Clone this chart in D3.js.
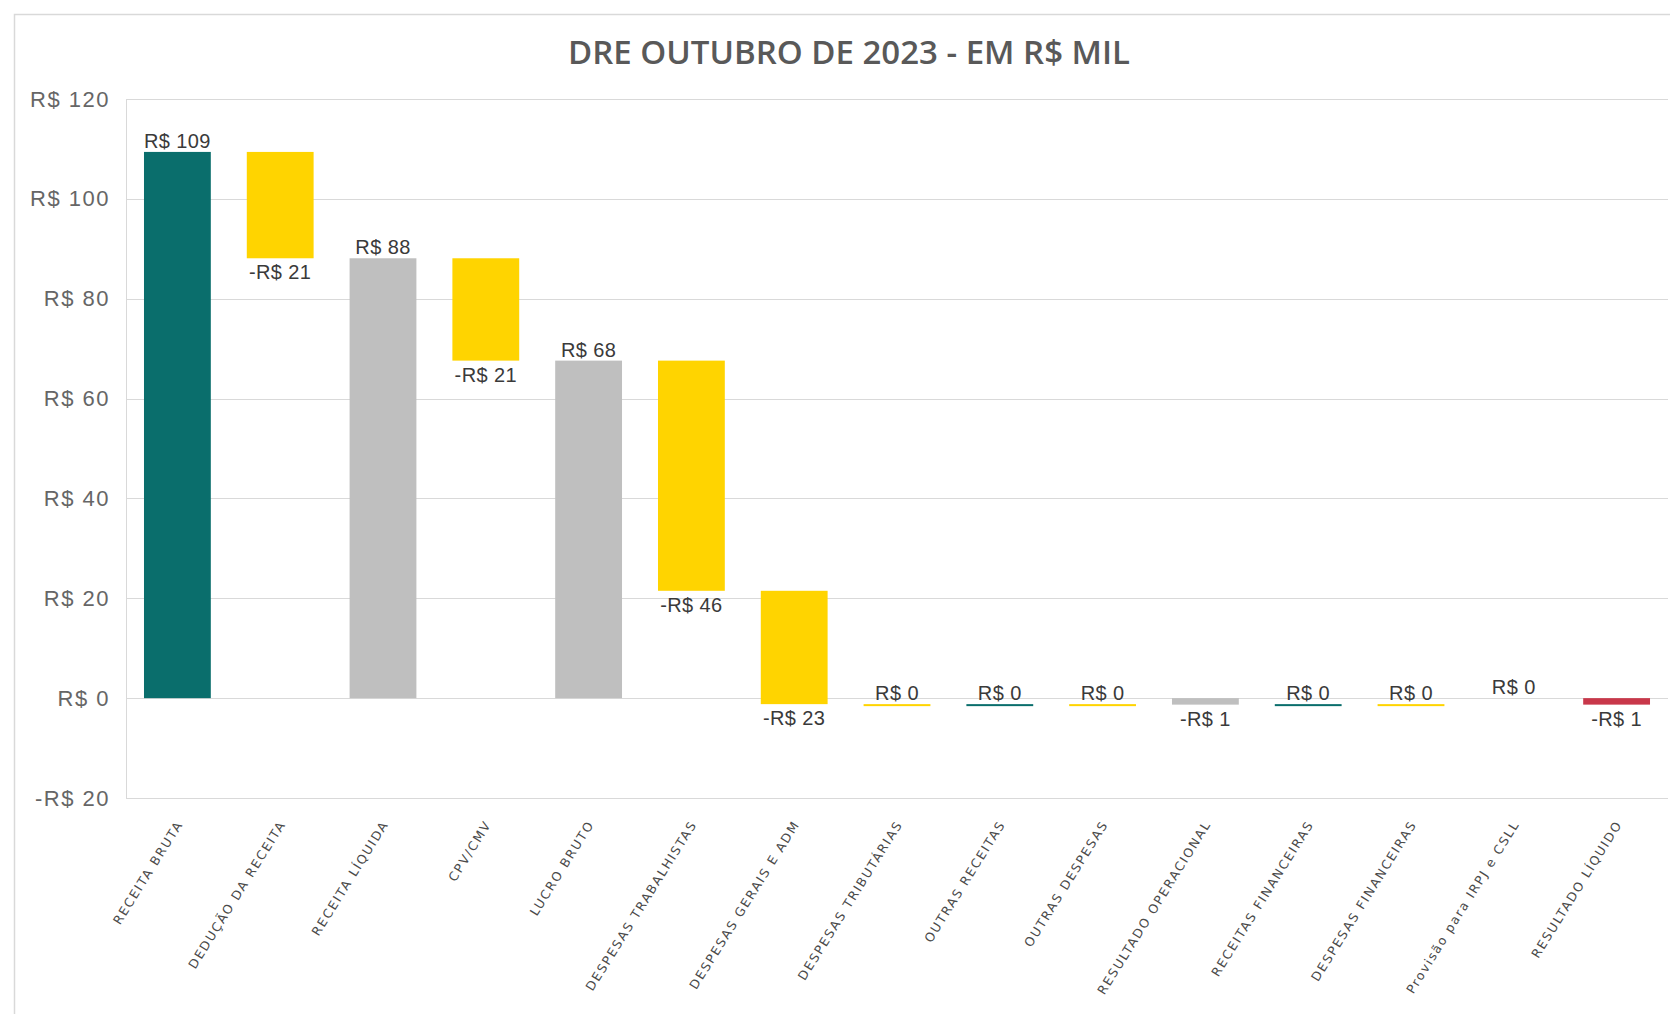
<!DOCTYPE html>
<html>
<head>
<meta charset="utf-8">
<script src="https://cdn.jsdelivr.net/npm/d3@7"></script>
<style>
  body { margin: 0; background: #fff; }
  svg { display: block; }
</style>
</head>
<body>
<div id="chart"></div>
<script>
// DRE outubro 2023, valores em R$ mil
const categories = [
    "RECEITA BRUTA", "DEDUÇÃO DA RECEITA", "RECEITA LÍQUIDA", "CPV/CMV", "LUCRO BRUTO",
    "DESPESAS TRABALHISTAS", "DESPESAS GERAIS E ADM", "DESPESAS TRIBUTÁRIAS", "OUTRAS RECEITAS",
    "OUTRAS DESPESAS", "RESULTADO OPERACIONAL", "RECEITAS FINANCEIRAS", "DESPESAS FINANCEIRAS",
    "Provisão para IRPJ e CSLL", "RESULTADO LÍQUIDO"
];
const values = [109.4, -21.3, 88.1, -20.5, 67.6, -46.1, -22.7, -0.1, 0.1, -0.1, -1.3, 0.1, -0.1, 0, -1.3];
// "total" = barra a partir do zero, "delta" = variação sobre o acumulado
const kinds = ["total", "delta", "total", "delta", "total", "delta", "delta", "delta", "delta",
    "delta", "total", "delta", "delta", "total", "total"];
const yTicks = [-20, 0, 20, 40, 60, 80, 100, 120];

const W = 1670, H = 1014;
const margin = { top: 99, right: 2, bottom: 216, left: 126 };

const svg = d3.select("#chart").append("svg")
    .attr("width", W)
    .attr("height", H);

// moldura do gráfico
svg.append("rect")
    .attr("x", 14.5).attr("y", 14.5)
    .attr("width", W + 40).attr("height", H + 40)
    .attr("fill", "none")
    .attr("stroke", "#d9d9d9")
    .attr("stroke-width", 1.5);

svg.append("text")
    .attr("x", 849)
    .attr("y", 64)
    .attr("text-anchor", "middle")
    .style("font-family", "'Open Sans', sans-serif")
    .style("font-weight", 600)
    .style("font-size", "33px")
    .attr("fill", "#595959")
    .text("DRE OUTUBRO DE 2023 - EM R$ MIL");

const x = d3.scaleBand()
    .domain(categories)
    .range([margin.left, W - margin.right])
    .paddingInner(0.35)
    .paddingOuter(0.175);

const y = d3.scaleLinear()
    .domain([-20, 120])
    .range([H - margin.bottom, margin.top]);

const fmt = v => {
    const r = Math.round(Math.abs(v));
    return (v < 0 && r > 0 ? "-" : "") + "R$ " + r;
};

// grade
svg.append("g")
    .selectAll("line")
    .data(yTicks)
    .join("line")
    .attr("x1", margin.left)
    .attr("x2", W - margin.right)
    .attr("y1", d => Math.round(y(d)) + 0.5)
    .attr("y2", d => Math.round(y(d)) + 0.5)
    .attr("stroke", "#d9d9d9");

svg.append("line")
    .attr("x1", margin.left + 0.5).attr("x2", margin.left + 0.5)
    .attr("y1", y(120)).attr("y2", y(-20))
    .attr("stroke", "#d9d9d9");

const yAxis = svg.append("g")
    .attr("transform", `translate(${margin.left - 16},0)`)
    .call(d3.axisLeft(y).tickValues(yTicks).tickSize(0).tickFormat(fmt));
yAxis.select(".domain").remove();
yAxis.selectAll("text")
    .attr("x", 0)
    .style("font-family", "'Liberation Sans', Arial, sans-serif")
    .style("font-size", "22px")
    .style("letter-spacing", "1.5px")
    .attr("fill", "#666");

// acumulado da cascata
let running = 0;
const bars = categories.map((name, i) => {
    const v = values[i];
    let from, to;
    if (kinds[i] === "total") {
        from = 0; to = v;
    } else {
        from = running; to = running + v;
    }
    running = to;
    let color;
    if (kinds[i] === "total") {
        if (i === 0) color = "#0a6e6c";
        else if (i === categories.length - 1) color = "#c8374a";
        else color = "#bfbfbf";
    } else {
        color = v < 0 ? "#ffd400" : "#0a6e6c";
    }
    return { name, v, from, to, kind: kinds[i], color };
});

svg.append("g")
    .selectAll("rect")
    .data(bars.filter(d => d.v !== 0))
    .join("rect")
    .attr("x", d => x(d.name))
    .attr("width", x.bandwidth())
    .attr("y", d => y(Math.max(d.from, d.to)))
    .attr("height", d => Math.max(2, Math.abs(y(d.from) - y(d.to))))
    .attr("fill", d => d.color);

// rótulos de dados
svg.append("g")
    .selectAll("text")
    .data(bars)
    .join("text")
    .attr("x", d => x(d.name) + x.bandwidth() / 2)
    .attr("y", d => Math.round(d.v) < 0
        ? y(Math.min(d.from, d.to)) + 21
        : y(Math.max(d.from, d.to)) - 4)
    .attr("text-anchor", "middle")
    .style("font-family", "'Liberation Sans', Arial, sans-serif")
    .style("font-size", "20px")
    .style("letter-spacing", "0.4px")
    .attr("fill", "#3a3a3a")
    .text(d => fmt(d.v));

// rótulos das categorias
svg.append("g")
    .selectAll("text")
    .data(categories)
    .join("text")
    .attr("transform", d => `translate(${x(d) + x.bandwidth() / 2 + 6},${y(-20) + 26}) rotate(-58)`)
    .attr("text-anchor", "end")
    .style("font-family", "'DejaVu Sans', sans-serif")
    .style("font-size", "12.5px")
    .style("letter-spacing", "1.7px")
    .attr("fill", "#4a4a4a")
    .text(d => d);
</script>
</body>
</html>
